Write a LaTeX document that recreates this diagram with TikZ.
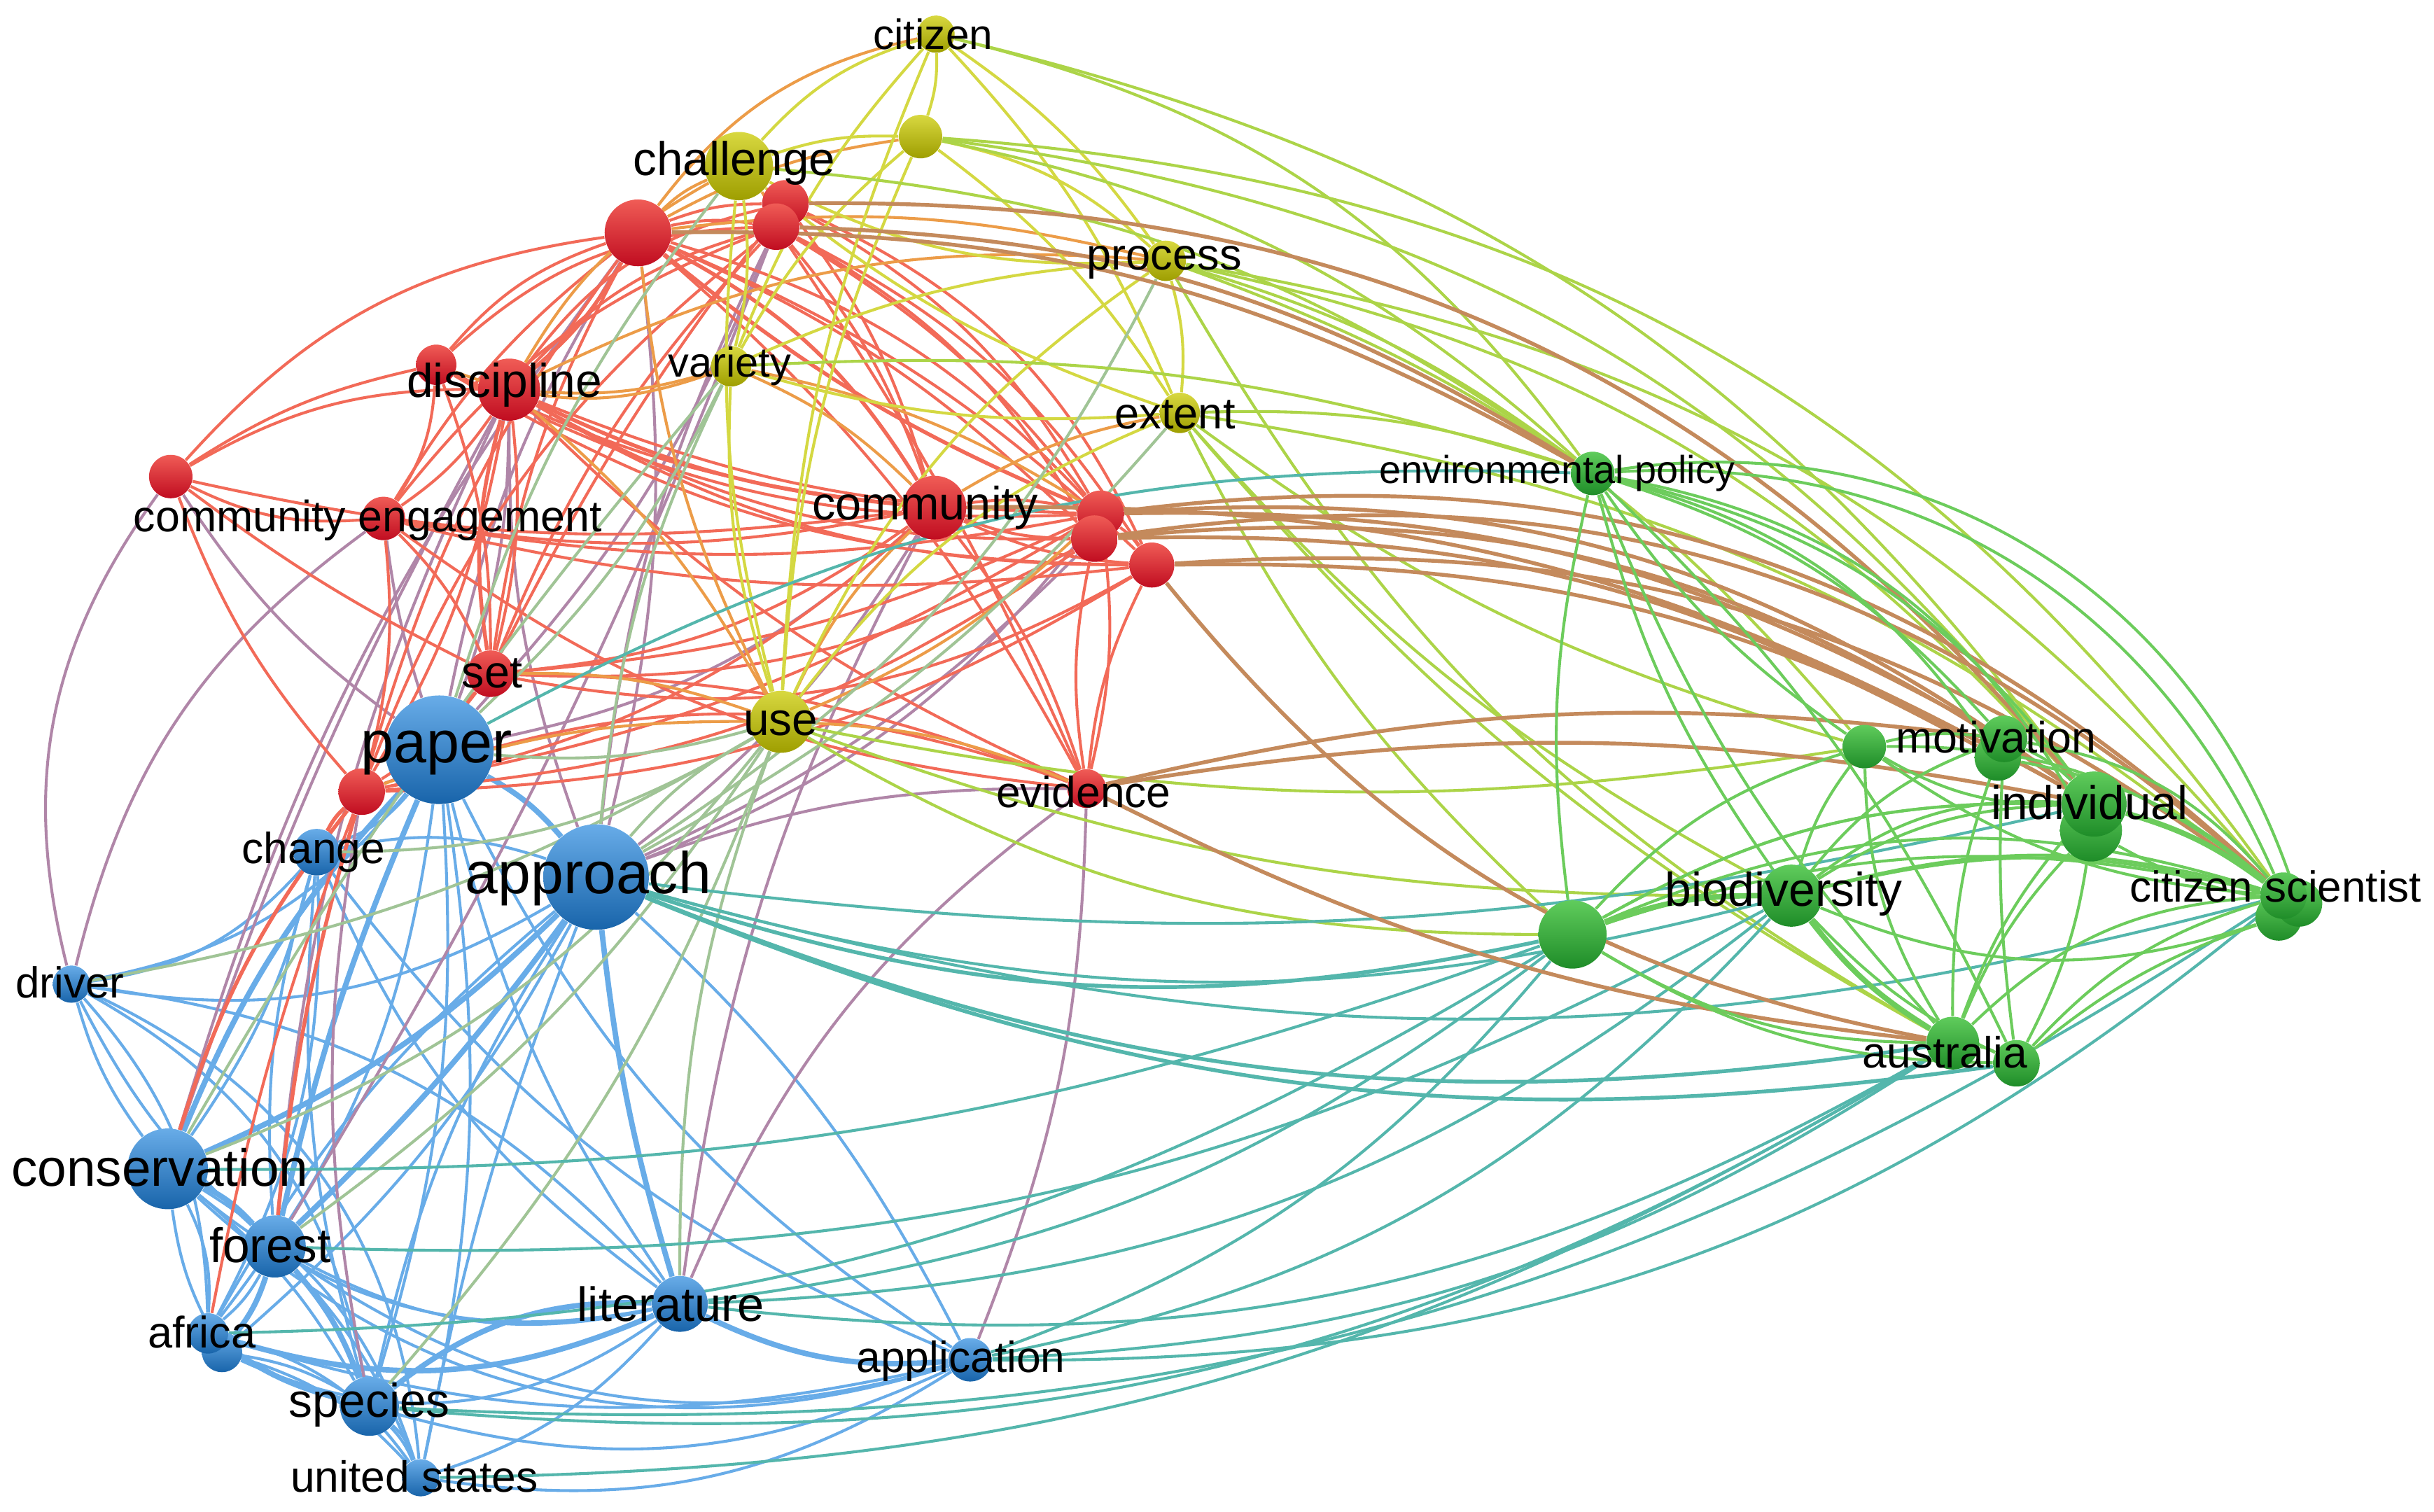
\documentclass[tikz,border=0pt]{standalone}
\usepackage{fontspec}
\setmainfont{Liberation Sans}
\pgfdeclarelayer{bg}
\pgfdeclarelayer{edges}
\pgfsetlayers{bg,edges,main}
\definecolor{rT}{RGB}{240,92,86}
\definecolor{rD}{RGB}{192,12,32}
\definecolor{bT}{RGB}{104,172,232}
\definecolor{bD}{RGB}{24,100,170}
\definecolor{gT}{RGB}{96,204,92}
\definecolor{gD}{RGB}{30,140,40}
\definecolor{yT}{RGB}{216,216,64}
\definecolor{yD}{RGB}{158,158,0}
\definecolor{eR}{RGB}{242,106,88}
\definecolor{eB}{RGB}{104,172,232}
\definecolor{eG}{RGB}{108,204,92}
\definecolor{eY}{RGB}{212,216,66}
\definecolor{eRB}{RGB}{176,134,168}
\definecolor{eBG}{RGB}{84,182,172}
\definecolor{eRG}{RGB}{196,138,92}
\definecolor{eYG}{RGB}{172,212,72}
\definecolor{eRY}{RGB}{236,156,72}
\definecolor{eBY}{RGB}{160,196,150}
\begin{document}
\begin{tikzpicture}[x=0.02cm,y=-0.02cm,
  kw/.style={circle,inner sep=0pt,minimum size={0.04cm*#1},draw=none},
  rn/.style={kw=#1,top color=rT,bottom color=rD},
  bn/.style={kw=#1,top color=bT,bottom color=bD},
  gn/.style={kw=#1,top color=gT,bottom color=gD},
  yn/.style={kw=#1,top color=yT,bottom color=yD},
  lab/.style={inner sep=0pt,text=black,font=\fontsize{#1pt}{#1pt}\selectfont},
  ln/.style={line width=1.05pt},
  md/.style={line width=1.4pt},
  tk/.style={line width=2pt}]
\useasboundingbox (0,0) rectangle (1568,974);
\begin{pgfonlayer}{bg}
\fill[white] (0,0) rectangle (1568,974);
\end{pgfonlayer}
% yellow
\node[yn=12] (cit) at (603,22) {};
\node[yn=14] (y2) at (593,88) {};
\node[yn=22] (chal) at (476,107) {};
\node[yn=13] (proc) at (751,168) {};
\node[yn=13] (var) at (471,236) {};
\node[yn=13] (ext) at (760,266) {};
\node[yn=20] (use) at (503,465) {};
% red
\node[rn=21.5] (r1) at (411,150) {};
\node[rn=15] (r3) at (506,131) {};
\node[rn=15] (r2) at (500,146) {};
\node[rn=13] (r4) at (281,235) {};
\node[rn=20] (disc) at (328,251) {};
\node[rn=14] (r5) at (110,307) {};
\node[rn=14] (ceng) at (247,334) {};
\node[rn=20.5] (comm) at (602,327) {};
\node[rn=15] (r6) at (709,331) {};
\node[rn=15] (r7) at (705,347) {};
\node[rn=14.5] (r8) at (742,364) {};
\node[rn=15] (set) at (316,434) {};
\node[rn=15] (r9) at (233,510) {};
\node[rn=12.5] (evid) at (700,508) {};
% blue
\node[bn=35] (paper) at (283,483) {};
\node[bn=34] (appr) at (384,565) {};
\node[bn=15] (chg) at (204,549) {};
\node[bn=12] (drv) at (46,634) {};
\node[bn=26] (cons) at (108,753) {};
\node[bn=20] (forest) at (177,803) {};
\node[bn=13] (afr2) at (143,871) {};
\node[bn=13] (afr) at (134,859) {};
\node[bn=19] (spec) at (238,906) {};
\node[bn=12] (us) at (271,952) {};
\node[bn=18] (lit) at (438,840) {};
\node[bn=14] (app) at (625,876) {};
% green
\node[gn=14] (env) at (1026,305) {};
\node[gn=14] (mot1) at (1201,481) {};
\node[gn=15] (mot3) at (1287,488) {};
\node[gn=15] (mot2) at (1291,476) {};
\node[gn=20] (ind2) at (1347,535) {};
\node[gn=21] (ind) at (1349,518) {};
\node[gn=15] (cs3) at (1468,591) {};
\node[gn=15] (cs2) at (1481,582) {};
\node[gn=15] (cs) at (1471,577) {};
\node[gn=20] (bio) at (1154,577) {};
\node[gn=22] (g1) at (1013,602) {};
\node[gn=17] (aus) at (1258,672) {};
\node[gn=15] (aus2) at (1299,685) {};
% labels
\node[lab=15.5] (Lcit) at (601,22) {citizen};
\node[lab=17.3] (Lchal) at (473,105) {challenge};
\node[lab=16.2] (Lproc) at (750,169) {process};
\node[lab=15.3] (Lvar) at (470,236) {variety};
\node[lab=16.2] (Lext) at (757,267) {extent};
\node[lab=16.9] (Luse) at (503,466) {use};
\node[lab=17.4] (Ldisc) at (325,248) {discipline};
\node[lab=16.1] (Lceng) at (237,335) {community engagement};
\node[lab=17.1] (Lcomm) at (596,327) {community};
\node[lab=16.6] (Lset) at (317,434) {set};
\node[lab=16] (Levid) at (698,510) {evidence};
\node[lab=21.7] (Lpaper) at (281,485) {paper};
\node[lab=21.6] (Lappr) at (379,566) {approach};
\node[lab=16] (Lchg) at (202,549) {change};
\node[lab=15.9] (Ldrv) at (45,633) {driver};
\node[lab=19.2] (Lcons) at (103,752) {conservation};
\node[lab=17.8] (Lforest) at (174,802) {forest};
\node[lab=16.2] (Lafr) at (130,858) {africa};
\node[lab=17.4] (Lspec) at (238,905) {species};
\node[lab=16] (Lus) at (267,951) {united states};
\node[lab=17.6] (Llit) at (432,840) {literature};
\node[lab=16] (Lapp) at (619,877) {application};
\node[lab=14.3] (Lenv) at (1003,305) {environmental policy};
\node[lab=16.1] (Lmot) at (1286,475) {motivation};
\node[lab=17.3] (Lind) at (1346,517) {individual};
\node[lab=15.9] (Lcs) at (1466,571) {citizen scientist};
\node[lab=17.4] (Lbio) at (1149,576) {biodiversity};
\node[lab=16] (Laus) at (1253,678) {australia};
\begin{pgfonlayer}{edges}
% blue
\foreach \a/\b/\c in {paper/chg/15, paper/drv/20, paper/afr/15, paper/spec/10, paper/lit/-10, paper/us/10, paper/app/-15,
 appr/afr/-10, appr/spec/-10, appr/app/10, appr/chg/-15, appr/us/-5, appr/drv/20, appr/afr2/10,
 chg/cons/10, chg/forest/-10, chg/drv/20, chg/afr/15, chg/spec/-10, chg/lit/-15, chg/app/-15,
 drv/cons/-10, drv/afr/20, drv/spec/25, drv/us/30, drv/lit/20, drv/forest/-10,
 cons/afr/15, cons/spec/10, cons/us/20, cons/lit/-25, cons/app/-30, cons/afr2/-10,
 forest/afr/10, forest/us/10, forest/lit/-20, forest/app/-25,
 afr/us/20, afr/app/-15, afr2/spec/10, afr2/us/15, afr2/lit/-30,
 spec/us/10, spec/app/-20, us/lit/-15, us/app/-20, us/spec/-15}
 \draw[eB,ln] (\a) to[bend left=\c] (\b);
\foreach \a/\b/\c in {paper/appr/10, paper/cons/-10, appr/cons/10, appr/forest/5, cons/forest/10, appr/lit/-5,
 afr/lit/-20, spec/lit/20, lit/app/-15, forest/spec/10, forest/afr2/10, afr/spec/-10, paper/forest/-5}
 \draw[eB,tk] (\a) to[bend left=\c] (\b);
% red-blue
\foreach \a/\b/\c in {paper/disc/-10, paper/r1/10, paper/r2/-10, paper/comm/-15, appr/disc/10, appr/r1/-10,
 appr/comm/-10, appr/r2/10, appr/r6/-15, r5/drv/-25, ceng/drv/-20, lit/evid/15, app/evid/-10, cons/r1/10,
 forest/disc/10, cons/disc/5, spec/r9/10, forest/r2/-5, appr/evid/10, appr/r7/-10, lit/comm/10, paper/r5/10, paper/ceng/5}
 \draw[eRB,ln] (\a) to[bend left=\c] (\b);
% red
\foreach \a/\b/\c in {r1/r2/10, r1/r3/10, r1/r4/-15, r1/ceng/-10, r1/r6/15, r1/r7/10, r1/r8/10, r1/set/-10,
 r1/evid/10, r1/r9/-10, r1/r5/-20, r2/disc/-15, r2/comm/10, r2/r6/10, r2/r7/15, r2/evid/5, r2/set/-10,
 r2/r9/-15, r2/ceng/-15, r2/r8/15, r2/r4/-20, r3/disc/-20, r3/r6/15, r3/comm/10, r3/r8/20, r3/set/-5,
 disc/r6/-10, disc/r7/-15, disc/r8/-15, disc/set/10, disc/r9/10, disc/ceng/10, disc/r5/-15,
 disc/evid/-10, disc/r4/10, r4/r5/-10, r4/comm/-10, r4/r6/-15, r4/ceng/15, r4/set/10, r4/r8/-15,
 r5/ceng/-15, r5/r9/-10, r5/comm/-10, r5/set/-5, ceng/set/10, ceng/r9/10, ceng/comm/-10, ceng/r6/-10,
 ceng/evid/-15, ceng/r8/-10, comm/r6/10, comm/r7/-10, comm/r8/-10, comm/set/15, comm/evid/10,
 comm/r9/15, r6/r7/10, r6/r8/10, r6/evid/10, r7/evid/-10, r8/evid/-10, set/r6/-10, set/r7/-15,
 set/evid/10, set/r8/-20, set/r9/10, r9/r8/-15, r9/evid/20, r9/r6/-10, r9/r7/-15, afr/r9/5, paper/set/5}
 \draw[eR,ln] (\a) to[bend left=\c] (\b);
\foreach \a/\b/\c in {r1/disc/10, disc/comm/-10, r1/comm/15, chg/r9/10, cons/r9/10, forest/r9/5, r1/r6/-8, disc/set/-12}
 \draw[eR,md] (\a) to[bend left=\c] (\b);
% red-yellow
\foreach \a/\b/\c in {cit/r1/-20, chal/r1/-10, chal/r2/10, chal/disc/-15, var/disc/10, var/r4/20, proc/disc/-15,
 proc/r1/-10, use/r1/10, use/comm/10, use/set/-10, use/disc/-10, use/r9/-10, use/r6/-10, var/comm/10,
 var/r6/10, ext/comm/-10, use/evid/10, y2/r1/-10}
 \draw[eRY,ln] (\a) to[bend left=\c] (\b);
% yellow
\foreach \a/\b/\c in {cit/y2/10, cit/proc/10, cit/ext/10, cit/use/-10, cit/chal/-15, cit/var/-10, y2/chal/-10,
 y2/proc/15, y2/ext/10, y2/use/-10, y2/var/-10, chal/proc/-15, chal/use/-10, chal/var/10, proc/ext/10,
 proc/use/-15, var/use/-10, ext/use/-15, var/ext/-10, var/proc/10, chal/ext/-10}
 \draw[eY,ln] (\a) to[bend left=\c] (\b);
% yellow-blue
\foreach \a/\b/\c in {use/paper/10, use/appr/-10, use/cons/15, use/forest/10, use/lit/-10, use/spec/10,
 use/chg/15, var/paper/10, var/appr/-10, chal/paper/-10, proc/appr/15, ext/appr/10, use/drv/10, var/cons/-5}
 \draw[eBY,ln] (\a) to[bend left=\c] (\b);
% yellow-green
\foreach \a/\b/\c in {cit/env/20, y2/env/15, y2/ind/22, cit/ind/20, proc/env/10, proc/mot1/15, proc/cs/20,
 ext/env/10, ext/bio/-10, ext/aus/-10, ext/g1/-10, use/g1/-15, use/bio/-10, chal/env/15, proc/ind/18,
 ext/cs/15, y2/cs/25, use/mot1/-10, var/env/10, ext/mot1/-10, proc/aus/-15}
 \draw[eYG,ln] (\a) to[bend left=\c] (\b);
% blue-green
\foreach \a/\b/\c in {appr/bio/-15, appr/cs/-15, lit/g1/-15, lit/aus/-18, app/aus/-15, app/cs/-20, app/g1/-15,
 spec/aus/-18, us/aus/-15, afr/g1/-15, paper/env/15, appr/ind/-10, lit/bio/-18, cons/g1/-10,
 forest/bio/-15, app/bio/-18, spec/cs/-18}
 \draw[eBG,ln] (\a) to[bend left=\c] (\b);
\foreach \a/\b/\c in {appr/g1/-15, appr/aus/-15, appr/aus2/-15}
 \draw[eBG,md] (\a) to[bend left=\c] (\b);
% red-green
\foreach \a/\b/\c in {r6/ind/20, r7/ind/20, r8/cs/20, r6/mot2/15, r7/cs/25, comm/ind/15, evid/ind/10,
 evid/mot2/10, r8/aus/-20, r2/env/15, r1/env/15, r3/ind/25, r8/ind/15, r6/cs/25, evid/aus/-10, r7/mot3/15}
 \draw[eRG,md] (\a) to[bend left=\c] (\b);
% green
\foreach \a/\b/\c in {env/g1/-10, env/bio/-10, env/mot1/-10, env/mot2/15, env/ind/20, env/cs/35, env/aus/-10,
 env/aus2/10, g1/mot1/15, g1/ind/15, g1/cs/15, g1/aus/-15, g1/aus2/-15, bio/mot1/10, bio/mot2/15,
 bio/ind/15, bio/cs/15, bio/aus2/-10, mot1/mot2/10, mot1/ind/-15, mot1/cs/20, mot1/aus/-15,
 mot2/ind/10, mot2/cs/20, mot2/aus/-10, ind/aus/-10, ind/aus2/10, cs/aus/-20, cs/aus2/-15,
 aus/aus2/10, mot3/cs/15, ind2/cs2/-10, cs3/aus2/-10, ind/bio/-20, ind/g1/-15, cs/g1/-20, cs2/bio/-15,
 env/mot3/20, env/ind2/25, cs2/env/-40, mot2/aus2/-5, ind2/aus/-10, cs3/bio/20, cs/mot1/15}
 \draw[eG,ln] (\a) to[bend left=\c] (\b);
\foreach \a/\b/\c in {g1/bio/10, ind/cs/10, bio/aus/-10}
 \draw[eG,tk] (\a) to[bend left=\c] (\b);
\end{pgfonlayer}
\end{tikzpicture}
\end{document}
